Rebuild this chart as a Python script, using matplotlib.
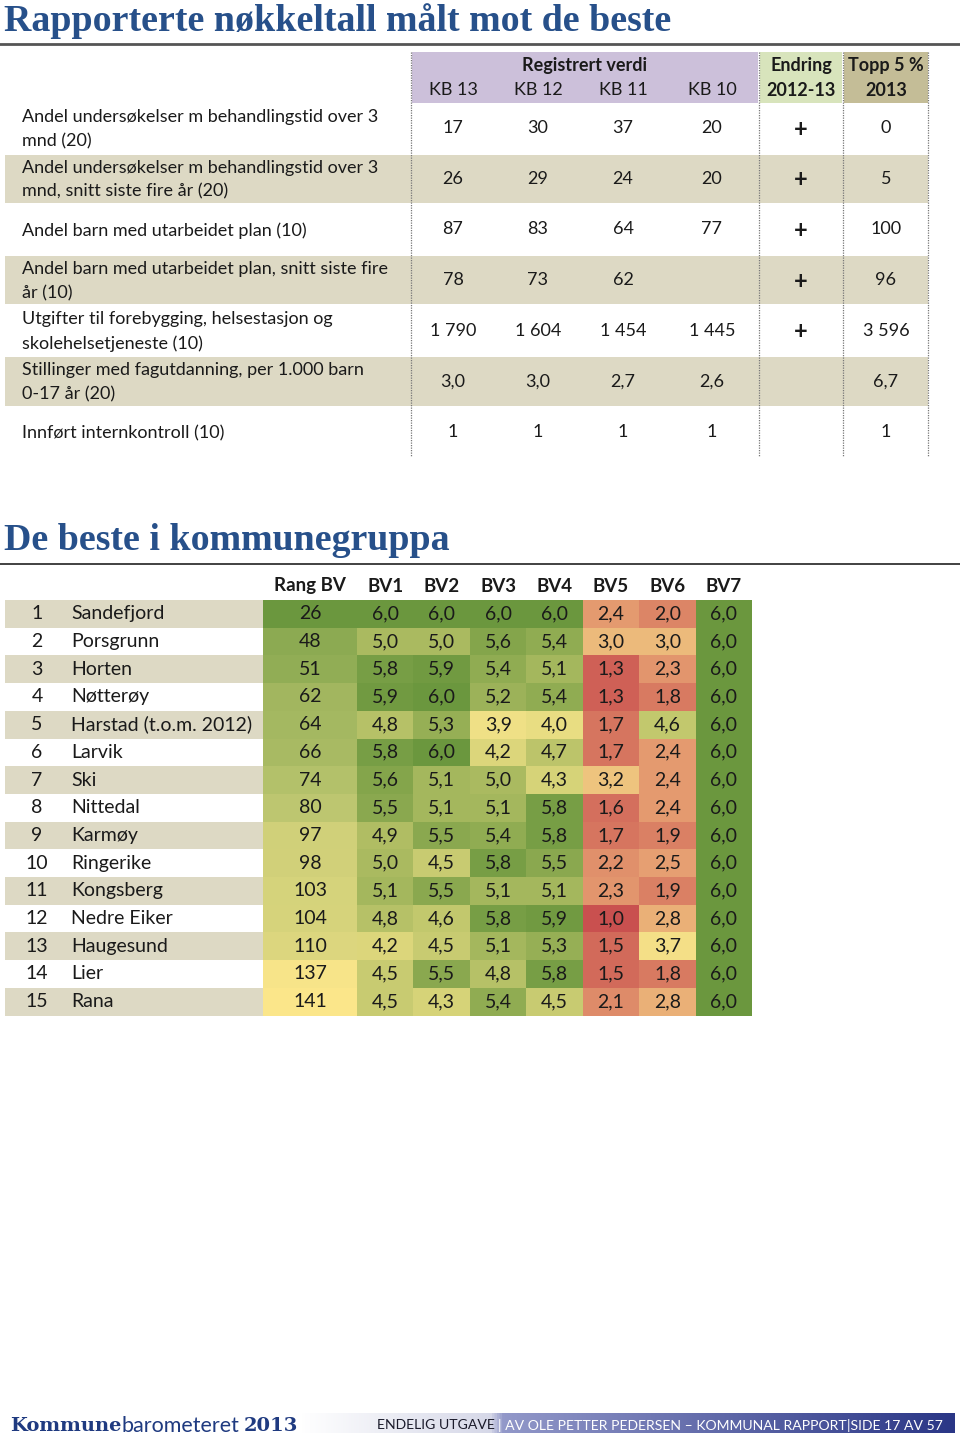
import numpy as np
import matplotlib
matplotlib.use("Agg")
import matplotlib.pyplot as plt
from matplotlib.colors import LinearSegmentedColormap, Normalize
from matplotlib.patches import Rectangle

# ---- data : tabell 1
rad_tekst = ["Andel undersøkelser m behandlingstid over 3\nmnd (20)",
             "Andel undersøkelser m behandlingstid over 3\nmnd, snitt siste fire år (20)",
             "Andel barn med utarbeidet plan (10)",
             "Andel barn med utarbeidet plan, snitt siste fire\når (10)",
             "Utgifter til forebygging, helsestasjon og\nskolehelsetjeneste (10)",
             "Stillinger med fagutdanning, per 1.000 barn\n0-17 år (20)",
             "Innført internkontroll (10)"]
kb_kol = ["KB 13", "KB 12", "KB 11", "KB 10"]
kb13 = ["17", "26", "87", "78", "1 790", "3,0", "1"]
kb12 = ["30", "29", "83", "73", "1 604", "3,0", "1"]
kb11 = ["37", "24", "64", "62", "1 454", "2,7", "1"]
kb10 = ["20", "20", "77", "", "1 445", "2,6", "1"]
endring = ["+", "+", "+", "+", "+", "", ""]
topp5 = ["0", "5", "100", "96", "3 596", "6,7", "1"]

# ---- data : de beste i kommunegruppa
kommuner = ["Sandefjord", "Porsgrunn", "Horten", "Nøtterøy", "Harstad (t.o.m. 2012)",
            "Larvik", "Ski", "Nittedal", "Karmøy", "Ringerike", "Kongsberg",
            "Nedre Eiker", "Haugesund", "Lier", "Rana"]
rang_bv = [26, 48, 51, 62, 64, 66, 74, 80, 97, 98, 103, 104, 110, 137, 141]
bv1 = [6.0, 5.0, 5.8, 5.9, 4.8, 5.8, 5.6, 5.5, 4.9, 5.0, 5.1, 4.8, 4.2, 4.5, 4.5]
bv2 = [6.0, 5.0, 5.9, 6.0, 5.3, 6.0, 5.1, 5.1, 5.5, 4.5, 5.5, 4.6, 4.5, 5.5, 4.3]
bv3 = [6.0, 5.6, 5.4, 5.2, 3.9, 4.2, 5.0, 5.1, 5.4, 5.8, 5.1, 5.8, 5.1, 4.8, 5.4]
bv4 = [6.0, 5.4, 5.1, 5.4, 4.0, 4.7, 4.3, 5.8, 5.8, 5.5, 5.1, 5.9, 5.3, 5.8, 4.5]
bv5 = [2.4, 3.0, 1.3, 1.3, 1.7, 1.7, 3.2, 1.6, 1.7, 2.2, 2.3, 1.0, 1.5, 1.5, 2.1]
bv6 = [2.0, 3.0, 2.3, 1.8, 4.6, 2.4, 2.4, 2.4, 1.9, 2.5, 1.9, 2.8, 3.7, 1.8, 2.8]
bv7 = [6.0] * 15
bv_navn = ["BV1", "BV2", "BV3", "BV4", "BV5", "BV6", "BV7"]

# ---- farger
BLA = "#27508a"
TAN = "#ddd9c4"
LILLA = "#ccc0da"
GRONN_H = "#d8e4bc"
BRUN_H = "#c4bd97"
rgy = LinearSegmentedColormap.from_list(
    "rgy", [(0.0, "#c9504f"), (0.30, "#e6a072"), (0.56, "#f5e489"), (1.0, "#6b973e")])
gy = LinearSegmentedColormap.from_list("gy", ["#6b973e", "#c2c973", "#fbe68a"])

TXT = dict(family=["Lato", "DejaVu Sans"], color="#1a1a1a")

fig = plt.figure(figsize=(9.6, 14.36), dpi=100)
ax = fig.add_axes([0, 0, 1, 1])
ax.set_xlim(0, 960)
ax.set_ylim(1436, 0)
ax.axis("off")

# ================= del 1 =================
ax.text(4, 21, "Rapporterte nøkkeltall målt mot de beste", fontsize=27.3,
        family="Liberation Serif", weight="bold", color=BLA, va="center", ha="left")
ax.plot([0, 960], [44, 44], color="#555555", lw=2)

# header
ax.add_patch(Rectangle((412, 52), 346, 51, color=LILLA, lw=0))
ax.add_patch(Rectangle((760, 52), 82, 51, color=GRONN_H, lw=0))
ax.add_patch(Rectangle((844, 52), 84, 51, color=BRUN_H, lw=0))
ax.text(585, 65, "Registrert verdi", fontsize=13, weight="bold", ha="center", va="center", **TXT)
kb_x = [453, 538, 623, 712]
for x, k in zip(kb_x, kb_kol):
    ax.text(x, 90, k, fontsize=13, ha="center", va="center", **TXT)
ax.text(801, 65, "Endring", fontsize=13, weight="bold", ha="center", va="center", **TXT)
ax.text(801, 90, "2012-13", fontsize=13, weight="bold", ha="center", va="center", **TXT)
ax.text(886, 65, "Topp 5 %", fontsize=13, weight="bold", ha="center", va="center", **TXT)
ax.text(886, 90, "2013", fontsize=13, weight="bold", ha="center", va="center", **TXT)

rad_h = 50.6
y0 = 103
for i, lab in enumerate(rad_tekst):
    top = y0 + i * rad_h
    yc = top + rad_h / 2
    if i % 2 == 1:
        ax.add_patch(Rectangle((5, top + 1), 923, rad_h - 2, color=TAN, lw=0))
    ax.text(22, yc + 1, lab, fontsize=13, ha="left", va="center", linespacing=1.6, **TXT)
    for x, col in zip(kb_x, [kb13, kb12, kb11, kb10]):
        ax.text(x, yc, col[i], fontsize=13, ha="center", va="center", **TXT)
    ax.text(801, yc + 1, endring[i], fontsize=17, weight="bold", ha="center", va="center", **TXT)
    ax.text(886, yc, topp5[i], fontsize=13, ha="center", va="center", **TXT)

for x in [411, 758.5, 843, 928]:
    ax.plot([x, x], [52, y0 + 7 * rad_h], color="#777777", lw=0.9, ls=(0, (1, 1)))

# ================= del 2 =================
ax.text(4, 540, "De beste i kommunegruppa", fontsize=27.3,
        family="Liberation Serif", weight="bold", color=BLA, va="center", ha="left")
ax.plot([0, 960], [564, 564], color="#333333", lw=1.3)

hy0, hrow = 600, 27.7
rang_kant = [263, 357]
bv_kant = 357 + 56.45 * np.arange(8)
y_kant = hy0 + hrow * np.arange(16)

ax.pcolormesh(rang_kant, y_kant, np.array(rang_bv, float).reshape(-1, 1),
              cmap=gy, norm=Normalize(min(rang_bv), max(rang_bv)), shading="flat")
bv = np.column_stack([bv1, bv2, bv3, bv4, bv5, bv6, bv7])
ax.pcolormesh(bv_kant, y_kant, bv, cmap=rgy, norm=Normalize(1.0, 6.0), shading="flat")

ax.text(310, 586, "Rang BV", fontsize=13.5, weight="bold", ha="center", va="center", **TXT)
bv_mid = (bv_kant[:-1] + bv_kant[1:]) / 2
for x, n in zip(bv_mid, bv_navn):
    ax.text(x, 586, n, fontsize=13.5, weight="bold", ha="center", va="center", **TXT)

for i, navn in enumerate(kommuner):
    top = y_kant[i]
    yc = top + hrow / 2
    if i % 2 == 0:
        ax.add_patch(Rectangle((5, top), 258, hrow, color=TAN, lw=0))
    ax.text(37, yc, str(i + 1), fontsize=14, ha="center", va="center", **TXT)
    ax.text(71, yc, navn, fontsize=14, ha="left", va="center", **TXT)
    ax.text(310, yc, str(rang_bv[i]), fontsize=14, ha="center", va="center", **TXT)
    for j in range(7):
        ax.text(bv_mid[j], yc, f"{bv[i, j]:.1f}".replace(".", ","), fontsize=14,
                ha="center", va="center", **TXT)

# ================= bunntekst =================
grad = np.linspace(0, 1, 512).reshape(1, -1)
bunn = LinearSegmentedColormap.from_list(
    "bunn", [(0.0, "#ffffff"), (0.29, "#d6d8e8"), (0.31, "#9298c9"), (1.0, "#2a3686")])
ax.imshow(grad, cmap=bunn, extent=[300, 955, 1433, 1413], aspect="auto", zorder=1)
ax.set_xlim(0, 960)
ax.set_ylim(1436, 0)

r = fig.canvas.get_renderer()
x = 10
for s, w, fam, fs, gap in [("Kommune", "heavy", "DejaVu Serif", 14, 0),
                           ("barometeret", "normal", "Lato", 15.5, 4),
                           ("2013", "heavy", "DejaVu Serif", 14, 0)]:
    t = ax.text(x, 1424, s, fontsize=fs, weight=w, family=fam, color="#1f3a80",
                ha="left", va="center_baseline", zorder=3)
    x += t.get_window_extent(renderer=r).width + gap

x = 377
for s, c in [("ENDELIG UTGAVE ", "#1a1a2a"), ("| AV OLE PETTER PEDERSEN – KOMMUNAL RAPPORT", "white"),
             ("|SIDE 17 AV 57", "white")]:
    t = ax.text(x, 1424, s, fontsize=10.1, family=["Lato", "DejaVu Sans"], color=c,
                ha="left", va="center_baseline", zorder=3)
    x += t.get_window_extent(renderer=r).width

fig.savefig("out.png", dpi=100)
